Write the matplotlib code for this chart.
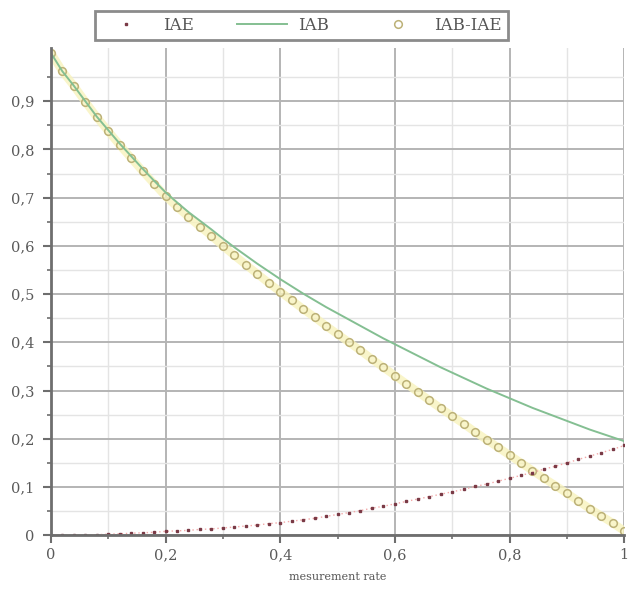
import numpy as np
import matplotlib
matplotlib.use("Agg")
import matplotlib.pyplot as plt
from matplotlib.ticker import MultipleLocator, FixedLocator, FuncFormatter

rate = [0.00, 0.02, 0.04, 0.06, 0.08, 0.10, 0.12, 0.14, 0.16, 0.18,
        0.20, 0.22, 0.24, 0.26, 0.28, 0.30, 0.32, 0.34, 0.36, 0.38,
        0.40, 0.42, 0.44, 0.46, 0.48, 0.50, 0.52, 0.54, 0.56, 0.58,
        0.60, 0.62, 0.64, 0.66, 0.68, 0.70, 0.72, 0.74, 0.76, 0.78,
        0.80, 0.82, 0.84, 0.86, 0.88, 0.90, 0.92, 0.94, 0.96, 0.98, 1.00]

iab = [1.000, 0.962, 0.932, 0.900, 0.868, 0.840, 0.812, 0.786, 0.760, 0.735,
       0.711, 0.690, 0.670, 0.652, 0.634, 0.615, 0.597, 0.580, 0.563, 0.547,
       0.531, 0.516, 0.501, 0.487, 0.473, 0.460, 0.447, 0.434, 0.421, 0.408,
       0.396, 0.384, 0.372, 0.360, 0.348, 0.337, 0.326, 0.315, 0.304, 0.294,
       0.284, 0.274, 0.264, 0.255, 0.246, 0.237, 0.228, 0.219, 0.211, 0.203, 0.195]

iae = [0.000, 0.000, 0.000, 0.001, 0.001, 0.002, 0.003, 0.004, 0.005, 0.006,
       0.008, 0.009, 0.010, 0.012, 0.013, 0.015, 0.017, 0.019, 0.021, 0.024,
       0.026, 0.029, 0.032, 0.035, 0.039, 0.043, 0.047, 0.051, 0.056, 0.060,
       0.065, 0.070, 0.075, 0.080, 0.085, 0.090, 0.095, 0.101, 0.106, 0.112,
       0.118, 0.124, 0.130, 0.137, 0.143, 0.150, 0.157, 0.164, 0.171, 0.178, 0.186]

iab_minus_iae = [1.000, 0.962, 0.932, 0.899, 0.867, 0.838, 0.809, 0.782, 0.755, 0.729,
                 0.703, 0.681, 0.660, 0.640, 0.621, 0.600, 0.580, 0.561, 0.542, 0.523,
                 0.505, 0.487, 0.469, 0.452, 0.434, 0.417, 0.400, 0.383, 0.365, 0.348,
                 0.331, 0.314, 0.297, 0.280, 0.263, 0.247, 0.231, 0.214, 0.198, 0.182,
                 0.166, 0.150, 0.134, 0.118, 0.103, 0.087, 0.071, 0.055, 0.040, 0.025, 0.009]

plt.rcParams["font.family"] = ["DejaVu Serif"]

fig = plt.figure(figsize=(6.28, 5.94), dpi=100)
ax = fig.add_axes([0.081, 0.099, 0.913, 0.820])

# grid
ax.xaxis.set_major_locator(MultipleLocator(0.2))
ax.xaxis.set_minor_locator(MultipleLocator(0.1))
ax.yaxis.set_major_locator(FixedLocator([0, 0.1, 0.2, 0.3, 0.4, 0.5, 0.6, 0.7, 0.8, 0.9]))
ax.yaxis.set_minor_locator(FixedLocator([0.05, 0.15, 0.25, 0.35, 0.45, 0.55, 0.65, 0.75, 0.85, 0.95]))
ax.grid(which="major", color="#b4b4b4", linewidth=1.4)
ax.grid(which="minor", color="#e4e4e4", linewidth=1.0)
ax.set_axisbelow(True)

fmt = FuncFormatter(lambda v, p: ("%g" % round(v, 2)).replace(".", ","))
ax.xaxis.set_major_formatter(fmt)
ax.yaxis.set_major_formatter(fmt)

# IAB-IAE: yellow halo + hollow olive circles
ax.plot(rate, iab_minus_iae, color="#f8f3bd", linewidth=6, alpha=0.8, solid_capstyle="round")
ax.plot(rate, iab_minus_iae, linestyle="none", marker="o", markersize=5.5,
        markerfacecolor="none", markeredgecolor="#bcb177", markeredgewidth=1.1,
        label="IAB-IAE")

# IAB: green line
ax.plot(rate, iab, color="#84bf92", linewidth=1.4, label="IAB")

# IAE: faint red dotted line + dark dots
ax.plot(rate, iae, color="#f2a8a8", linewidth=1.0, linestyle=(0, (1, 2)))
ax.plot(rate, iae, linestyle="none", marker="s", markersize=1.8,
        color="#7a3a46", label="IAE")

ax.set_xlim(0, 1)
ax.set_ylim(0, 1.01)

for s in ["top", "right"]:
    ax.spines[s].set_visible(False)
for s in ["left", "bottom"]:
    ax.spines[s].set_color("#6e6e6e")
    ax.spines[s].set_linewidth(2)

ax.tick_params(which="major", direction="out", length=6, width=1.5, color="#6e6e6e",
               labelsize=10.5, labelcolor="#5a5a5a")
ax.tick_params(axis="y", which="major", pad=6)
ax.tick_params(which="minor", direction="out", length=3, width=1.2, color="#6e6e6e")

ax.set_xlabel("mesurement rate", fontsize=8, color="#555555", labelpad=7)

h, l = ax.get_legend_handles_labels()
order = [2, 1, 0]
leg = fig.legend([h[i] for i in order], [l[i] for i in order],
                 loc="upper center", bbox_to_anchor=(0.48, 0.995), ncol=3,
                 frameon=True, fancybox=False, fontsize=12, columnspacing=2.6,
                 handlelength=3.0, handletextpad=0.7, borderpad=0.35)
leg.get_frame().set_edgecolor("#6e6e6e")
leg.get_frame().set_linewidth(2)
for t in leg.get_texts():
    t.set_color("#555555")

fig.savefig("out.png", dpi=100)
